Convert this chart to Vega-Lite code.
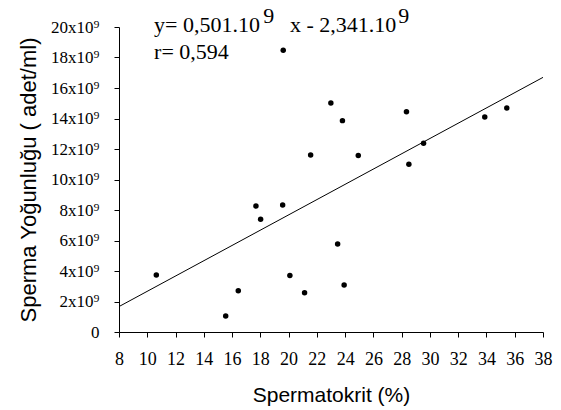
{
  "$schema": "https://vega.github.io/schema/vega-lite/v6.json",
  "autosize": "none",
  "padding": {"left": 119, "top": 27, "right": 18, "bottom": 78},
  "width": 424,
  "height": 305,
  "background": "white",
  "config": {"view": {"stroke": null}, "axis": {"labelOverlap": false, "grid": false}},
  "datasets": {
    "points": [
      {"spermatokrit": 10.64, "yogunluk": 3.74e9},
      {"spermatokrit": 15.55, "yogunluk": 1.05e9},
      {"spermatokrit": 16.44, "yogunluk": 2.71e9},
      {"spermatokrit": 17.69, "yogunluk": 8.26e9},
      {"spermatokrit": 18.02, "yogunluk": 7.39e9},
      {"spermatokrit": 19.58, "yogunluk": 8.33e9},
      {"spermatokrit": 19.62, "yogunluk": 18.47e9},
      {"spermatokrit": 20.09, "yogunluk": 3.70e9},
      {"spermatokrit": 21.13, "yogunluk": 2.58e9},
      {"spermatokrit": 21.56, "yogunluk": 11.61e9},
      {"spermatokrit": 22.99, "yogunluk": 15.02e9},
      {"spermatokrit": 23.47, "yogunluk": 5.77e9},
      {"spermatokrit": 23.81, "yogunluk": 13.86e9},
      {"spermatokrit": 23.93, "yogunluk": 3.08e9},
      {"spermatokrit": 24.93, "yogunluk": 11.57e9},
      {"spermatokrit": 28.34, "yogunluk": 14.45e9},
      {"spermatokrit": 28.51, "yogunluk": 11.0e9},
      {"spermatokrit": 29.55, "yogunluk": 12.37e9},
      {"spermatokrit": 33.88, "yogunluk": 14.1e9},
      {"spermatokrit": 35.44, "yogunluk": 14.69e9}
    ],
    "fit": [
      {"spermatokrit": 8, "yogunluk": 1.667e9},
      {"spermatokrit": 38, "yogunluk": 16.697e9}
    ]
  },
  "layer": [
    {
      "data": {"name": "fit"},
      "mark": {"type": "line", "color": "black", "strokeWidth": 1},
      "encoding": {
        "x": {
          "field": "spermatokrit", "type": "quantitative",
          "scale": {"domain": [8, 38], "nice": false, "zero": false},
          "axis": {
            "title": "Spermatokrit (%)",
            "values": [8,10,12,14,16,18,20,22,24,26,28,30,32,34,36,38],
            "tickCount": 40,
            "grid": false, "labelOverlap": false,
            "domainColor": "black", "tickColor": "black", "tickSize": 5,
            "labelFont": "Liberation Serif", "labelFontSize": 18, "labelColor": "black",
            "labelPadding": 13, "labelFlush": false,
            "titleFont": "Liberation Sans", "titleFontSize": 21, "titleFontWeight": "normal", "titleColor": "black",
            "titlePadding": 16
          }
        },
        "y": {
          "field": "yogunluk", "type": "quantitative",
          "scale": {"domain": [0, 2e10], "nice": false},
          "axis": {
            "title": "Sperma Yoğunluğu ( adet/ml)",
            "values": [0, 2e9, 4e9, 6e9, 8e9, 1e10, 1.2e10, 1.4e10, 1.6e10, 1.8e10, 2e10],
            "tickCount": 40,
            "labelExpr": "datum.value == 0 ? '0' : round(datum.value / 1e9) + 'x10⁹'",
            "grid": false, "labelOverlap": false,
            "domainColor": "black", "tickColor": "black", "tickSize": 5,
            "labelFont": "Liberation Serif", "labelFontSize": 17, "labelColor": "black",
            "labelPadding": 15, "labelFlush": false,
            "titleFont": "Liberation Sans", "titleFontSize": 22, "titleFontWeight": "normal", "titleColor": "black",
            "titlePadding": 10
          }
        }
      }
    },
    {
      "data": {"name": "points"},
      "mark": {"type": "circle", "color": "black", "opacity": 1, "size": 30},
      "encoding": {
        "x": {"field": "spermatokrit", "type": "quantitative"},
        "y": {"field": "yogunluk", "type": "quantitative"}
      }
    },
    {
      "data": {"values": [{"t": "y= 0,501.10"}]},
      "mark": {"type": "text", "font": "Liberation Serif", "fontSize": 22, "align": "left", "baseline": "alphabetic", "color": "black"},
      "encoding": {"x": {"datum": 10.48}, "y": {"datum": 19.65e9}, "text": {"field": "t"}}
    },
    {
      "data": {"values": [{"t": "9"}]},
      "mark": {"type": "text", "font": "Liberation Serif", "fontSize": 22, "align": "left", "baseline": "alphabetic", "color": "black"},
      "encoding": {"x": {"datum": 18.2}, "y": {"datum": 20.24e9}, "text": {"field": "t"}}
    },
    {
      "data": {"values": [{"t": "x - 2,341.10"}]},
      "mark": {"type": "text", "font": "Liberation Serif", "fontSize": 22, "align": "left", "baseline": "alphabetic", "color": "black"},
      "encoding": {"x": {"datum": 20.1}, "y": {"datum": 19.65e9}, "text": {"field": "t"}}
    },
    {
      "data": {"values": [{"t": "9"}]},
      "mark": {"type": "text", "font": "Liberation Serif", "fontSize": 22, "align": "left", "baseline": "alphabetic", "color": "black"},
      "encoding": {"x": {"datum": 27.75}, "y": {"datum": 20.24e9}, "text": {"field": "t"}}
    },
    {
      "data": {"values": [{"t": "r= 0,594"}]},
      "mark": {"type": "text", "font": "Liberation Serif", "fontSize": 22, "align": "left", "baseline": "alphabetic", "color": "black"},
      "encoding": {"x": {"datum": 10.48}, "y": {"datum": 17.88e9}, "text": {"field": "t"}}
    }
  ]
}
